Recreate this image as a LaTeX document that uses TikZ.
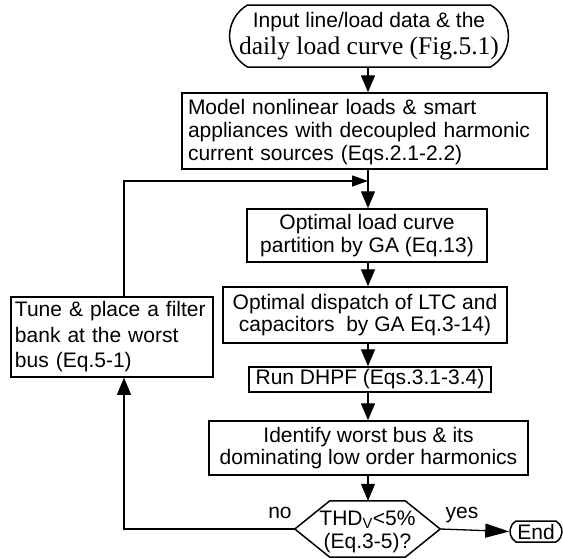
\documentclass[tikz,border=0pt]{standalone}
\usepackage{fontspec}
\setmainfont{Liberation Sans}
\newfontfamily\serifface{Liberation Serif}
\usetikzlibrary{arrows.meta,shapes.misc,calc}

\tikzset{
  txt/.style={font=\fontsize{21}{22.7}\selectfont},
  box/.style={draw, line width=1.5pt, rectangle, inner sep=0pt, align=center, txt},
  leftbox/.style={box, align=left, inner xsep=4pt, inner ysep=0pt},
  term/.style={draw, line width=1.5pt, rounded rectangle, rounded rectangle arc length=120,
               inner sep=0pt, align=center, txt},
  flow/.style={line width=1.3pt, -{Triangle[length=17pt,width=14pt]}},
  flowlong/.style={line width=1.3pt, -{Triangle[length=24pt,width=14pt]}},
  flowthin/.style={line width=1.3pt, -{Triangle[length=16pt,width=11pt]}},
  plain/.style={line width=1.3pt},
  lbl/.style={txt, inner sep=0pt, anchor=base},
}

\begin{document}
\begin{tikzpicture}[x=1pt,y=-1pt]
  \useasboundingbox[fill=white] (0,0) rectangle (563,558);

  % process steps
  \node[term, minimum width=278pt, minimum height=62pt] (start) at (369,36)
    {Input line/load data \& the\\[5pt]{\serifface\fontsize{25.5}{29}\selectfont daily load curve (Fig.5.1)}};
  \node[leftbox, inner xsep=6pt, text width=353pt, minimum height=76pt] (model) at (364.5,131)
    {\rule{0pt}{17pt}Model nonlinear loads \& smart\\appliances with decoupled harmonic\\current sources (Eqs.2.1-2.2)};
  \node[box, minimum width=240pt, minimum height=53pt] (part) at (367,235.5)
    {Optimal load curve\\partition by GA (Eq.13)};
  \node[box, minimum width=284pt, minimum height=56pt] (disp) at (365,315)
    {Optimal dispatch of LTC and\\capacitors\ \ by GA Eq.3-14)};
  \node[box, minimum width=242pt, minimum height=25pt] (dhpf) at (370,379.5)
    {Run DHPF (Eqs.3.1-3.4)};
  \node[box, minimum width=319pt, minimum height=54pt] (ident) at (368.5,448)
    {Identify worst bus \& its\\dominating low order harmonics};
  \node[leftbox, text width=194pt, minimum height=80pt,
        font=\fontsize{21}{25.5}\selectfont] (filter) at (112,337)
    {\hyphenpenalty=10000 Tune \& place a filter\\bank at the worst\\bus (Eq.5-1)};

  % decision
  \node[inner sep=0pt, minimum width=145pt, minimum height=56pt,
        label={[txt, align=center, inner sep=0pt, yshift=-3pt]center:{THD\textsubscript{V}<5\%\\(Eq.3-5)?}}] (dec) at (367.5,529) {};
  \draw[line width=1.5pt] (dec.west) -- ([xshift=35pt]dec.north west)
    -- ([xshift=-35pt]dec.north east) -- (dec.east)
    -- ([xshift=-35pt]dec.south east) -- ([xshift=35pt]dec.south west) -- cycle;

  \node[term, minimum width=52pt, minimum height=21pt] (endn) at (536,531.5) {End};

  \node[lbl] (no) at (280,518) {no};
  \node[lbl] (yes) at (462,518) {yes};

  % main spine and feedback route
  \coordinate (sp) at (368,0);
  \coordinate (fb) at (124,0);
  \coordinate (join) at (368,181);

  \draw[flow] (start.south -| sp) -- (model.north -| sp);
  \draw[plain] (model.south -| sp) -- (join);
  \draw[flow] (join) -- (part.north -| sp);
  \draw[flow] (part.south -| sp) -- (disp.north -| sp);
  \draw[flow] (disp.south -| sp) -- (dhpf.north -| sp);
  \draw[flow] (dhpf.south -| sp) -- (ident.north -| sp);
  \draw[flow] (ident.south -| sp) -- (dec.north -| sp);
  \draw[flowlong] (dec.east) -- (endn.west);
  \draw[flow] (dec.west) -- (dec.west -| fb) -- (filter.south -| fb);
  \draw[flowthin] (filter.north -| fb) -- (fb |- join) -- (join);
\end{tikzpicture}
\end{document}
